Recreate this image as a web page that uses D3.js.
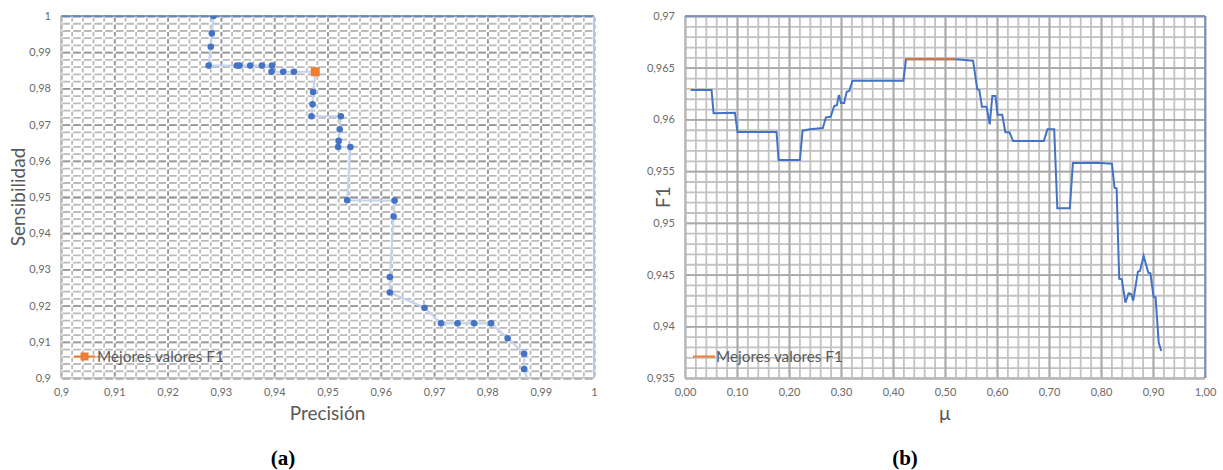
<!DOCTYPE html>
<html>
<head>
<meta charset="utf-8">
<script src="https://cdn.jsdelivr.net/npm/d3@7"></script>
<style>
body { margin: 0; background: #fff; }
text { font-family: Lato, "Open Sans", sans-serif; fill: #595959; }
.axis path { display: none; }
</style>
</head>
<body>
<svg id="chart" width="1223" height="470"></svg>
<script>
// (a) precision / sensitivity pairs
var precision = [0.9286, 0.9283, 0.9281, 0.9277, 0.9330, 0.9335, 0.9355, 0.9377, 0.9396,
  0.9395, 0.9417, 0.9437, 0.9477, 0.9473, 0.9472, 0.9470, 0.9525, 0.9523, 0.9521, 0.9520,
  0.9543, 0.9537, 0.9626, 0.9624, 0.9617, 0.9617, 0.9682, 0.9713, 0.9744, 0.9775, 0.9807,
  0.9838, 0.9869, 0.9869, 0.9880];
var sensibilidad = [1.0, 0.9952, 0.9915, 0.9863, 0.9863, 0.9863, 0.9863, 0.9863, 0.9863,
  0.9846, 0.9846, 0.9846, 0.9846, 0.9790, 0.9756, 0.9723, 0.9723, 0.9687, 0.9655, 0.9638,
  0.9638, 0.9491, 0.9490, 0.9446, 0.9279, 0.9236, 0.9194, 0.9151, 0.9151, 0.9151, 0.9151,
  0.9110, 0.9067, 0.9025, 0.8975];
var bestPrecision = [0.9477];
var bestSensibilidad = [0.9846];
var xTicksA = [0.9, 0.91, 0.92, 0.93, 0.94, 0.95, 0.96, 0.97, 0.98, 0.99, 1];
var yTicksA = [0.9, 0.91, 0.92, 0.93, 0.94, 0.95, 0.96, 0.97, 0.98, 0.99, 1];

// (b) F1 against mu
var mu = [0.011, 0.051, 0.055, 0.096, 0.101, 0.176, 0.180, 0.221, 0.226, 0.240,
  0.265, 0.271, 0.280, 0.287, 0.292, 0.296, 0.300, 0.306, 0.311, 0.316,
  0.322, 0.420, 0.425, 0.521, 0.554, 0.562, 0.566, 0.571, 0.580, 0.586,
  0.591, 0.597, 0.601, 0.610, 0.616, 0.624, 0.631, 0.690, 0.697, 0.710,
  0.716, 0.740, 0.746, 0.792, 0.821, 0.826, 0.830, 0.835, 0.840, 0.847,
  0.853, 0.858, 0.862, 0.871, 0.875, 0.882, 0.891, 0.895, 0.901, 0.905,
  0.911, 0.916];
var f1 = [0.96285, 0.96285, 0.96059, 0.96065, 0.95878, 0.95878, 0.95608, 0.95608, 0.95891, 0.95904,
  0.95917, 0.96020, 0.96026, 0.96130, 0.96137, 0.96236, 0.96159, 0.96159, 0.96268, 0.96275,
  0.96375, 0.96375, 0.96581, 0.96581, 0.96568, 0.96291, 0.96285, 0.96123, 0.96123, 0.95953,
  0.96227, 0.96227, 0.96046, 0.96046, 0.95876, 0.95876, 0.95791, 0.95791, 0.95904, 0.95904,
  0.95141, 0.95141, 0.95579, 0.95582, 0.95572, 0.95340, 0.95334, 0.94460, 0.94454, 0.94228,
  0.94319, 0.94312, 0.94248, 0.94528, 0.94535, 0.94680, 0.94518, 0.94512, 0.94286, 0.94280,
  0.93841, 0.93761];
var bestMu = [0.425, 0.521];
var bestF1 = [0.96581, 0.96581];
var xTicksB = [0, 0.1, 0.2, 0.3, 0.4, 0.5, 0.6, 0.7, 0.8, 0.9, 1];
var yTicksB = [0.935, 0.94, 0.945, 0.95, 0.955, 0.96, 0.965, 0.97];

var es = d3.formatLocale({decimal: ",", thousands: ".", grouping: [3], currency: ["", ""]});
var fmtShort = es.format("~g");
var fmt2 = es.format(".2f");

var svg = d3.select('#chart');
var blue = '#4472c4', orange = '#ed7d31';

// minor grid values between two ends
function minorVals(a, b, step){
  var n = Math.round((b - a) / step);
  return d3.range(n + 1).map(function(i){ return +(a + i * step).toFixed(4); });
}

function drawGrid(g, x, y, w, h, xMinor, yMinor, xMajor, yMajor, dashed){
  var xs = x(xMinor[1]) - x(xMinor[0]);
  var ys = y(yMinor[0]) - y(yMinor[1]);
  var vMinor = g.append('g').attr('transform', 'translate(0,' + h + ')')
    .call(d3.axisBottom(x).tickValues(xMinor).tickSize(-h).tickFormat(''));
  var hMinor = g.append('g')
    .call(d3.axisLeft(y).tickValues(yMinor).tickSize(-w).tickFormat(''));
  var vMajor = g.append('g').attr('transform', 'translate(0,' + h + ')')
    .call(d3.axisBottom(x).tickValues(xMajor).tickSize(-h).tickFormat(''));
  var hMajor = g.append('g')
    .call(d3.axisLeft(y).tickValues(yMajor).tickSize(-w).tickFormat(''));
  [vMinor, hMinor, vMajor, hMajor].forEach(function(s){ s.select('.domain').remove(); });
  var minorCol = dashed ? '#bababa' : '#c2c2c2';
  var majorCol = dashed ? '#999999' : '#a8a8a8';
  vMinor.selectAll('line').attr('stroke', minorCol).attr('stroke-width', 1.8);
  hMinor.selectAll('line').attr('stroke', minorCol).attr('stroke-width', 1.8);
  vMajor.selectAll('line').attr('stroke', majorCol).attr('stroke-width', 1.8);
  hMajor.selectAll('line').attr('stroke', majorCol).attr('stroke-width', 1.8);
  if(dashed){
    // gaps where the lines cross, like the scanned excel grid
    vMinor.selectAll('line').attr('stroke-dasharray', (ys - 3) + ' 3').attr('stroke-dashoffset', ys - 1.5);
    vMajor.selectAll('line').attr('stroke-dasharray', (ys - 3) + ' 3').attr('stroke-dashoffset', ys - 1.5);
    hMinor.selectAll('line').attr('stroke-dasharray', (xs - 3) + ' 3').attr('stroke-dashoffset', xs - 1.5);
    hMajor.selectAll('line').attr('stroke-dasharray', (xs - 3) + ' 3').attr('stroke-dashoffset', xs - 1.5);
  }
}

function styleTicks(sel){
  sel.selectAll('text').attr('font-size', 11).style('fill', '#6a6a6a');
}

//---------------- chart (a)
var A = {left: 61, top: 16, w: 533, h: 362};
var xa = d3.scaleLinear().domain([0.9, 1]).range([0, A.w]);
var ya = d3.scaleLinear().domain([0.9, 1]).range([A.h, 0]);
var ga = svg.append('g').attr('transform', 'translate(' + A.left + ',' + A.top + ')');

drawGrid(ga, xa, ya, A.w, A.h, minorVals(0.9, 1, 0.002), minorVals(0.9, 1, 0.002), xTicksA, yTicksA, true);

ga.append('line').attr('x1', 0).attr('x2', 0).attr('y1', 0).attr('y2', A.h).attr('stroke', '#bfbfbf').attr('stroke-width', 1.5);
ga.append('line').attr('x1', 0).attr('x2', A.w).attr('y1', A.h).attr('y2', A.h).attr('stroke', '#bfbfbf').attr('stroke-width', 1.5);
ga.append('line').attr('x1', 0).attr('x2', A.w).attr('y1', 0).attr('y2', 0).attr('stroke', '#5a7fc6').attr('stroke-width', 1.5);
ga.append('line').attr('x1', A.w).attr('x2', A.w).attr('y1', 0).attr('y2', A.h).attr('stroke', '#b4c7e7').attr('stroke-width', 2);

ga.append('g').attr('class', 'axis').attr('transform', 'translate(0,' + A.h + ')')
  .call(d3.axisBottom(xa).tickValues(xTicksA).tickSize(0).tickPadding(10).tickFormat(fmtShort))
  .call(styleTicks);
ga.append('g').attr('class', 'axis')
  .call(d3.axisLeft(ya).tickValues(yTicksA).tickSize(0).tickPadding(10).tickFormat(fmtShort))
  .call(styleTicks);

ga.append('clipPath').attr('id', 'clipA').append('rect').attr('width', A.w).attr('height', A.h);
var ptsA = precision.map(function(p, i){ return [p, sensibilidad[i]]; });
var plotA = ga.append('g').attr('clip-path', 'url(#clipA)');
plotA.append('path').datum(ptsA)
  .attr('d', d3.line().x(function(d){ return xa(d[0]); }).y(function(d){ return ya(d[1]); }))
  .attr('fill', 'none').attr('stroke', '#c5d3ec').attr('stroke-width', 2.2);
plotA.selectAll('circle.pt').data(ptsA).enter().append('circle').attr('class', 'pt')
  .attr('cx', function(d){ return xa(d[0]); }).attr('cy', function(d){ return ya(d[1]); })
  .attr('r', 3.3).attr('fill', blue);
plotA.selectAll('rect.best').data(bestPrecision).enter().append('rect').attr('class', 'best')
  .attr('x', function(d){ return xa(d) - 4.5; })
  .attr('y', function(d, i){ return ya(bestSensibilidad[i]) - 4.5; })
  .attr('width', 9).attr('height', 9).attr('fill', orange);

// legend (a)
var la = svg.append('g').attr('transform', 'translate(74,356.5)');
la.append('line').attr('x1', 0).attr('x2', 21).attr('stroke', orange).attr('stroke-width', 2);
la.append('rect').attr('x', 6.5).attr('y', -4).attr('width', 8).attr('height', 8).attr('fill', orange);
la.append('text').attr('x', 23).attr('y', 5.5).attr('font-size', 15.3).text('Mejores valores F1');

svg.append('text').attr('x', A.left + A.w / 2).attr('y', 420).attr('text-anchor', 'middle')
  .attr('font-size', 19).text('Precisión');
svg.append('text').attr('transform', 'translate(25,' + (A.top + A.h / 2) + ') rotate(-90)')
  .attr('text-anchor', 'middle').attr('font-size', 19).text('Sensibilidad');

//---------------- chart (b)
var B = {left: 685, top: 16, w: 520, h: 362};
var xb = d3.scaleLinear().domain([0, 1]).range([0, B.w]);
var yb = d3.scaleLinear().domain([0.935, 0.97]).range([B.h, 0]);
var gb = svg.append('g').attr('transform', 'translate(' + B.left + ',' + B.top + ')');

drawGrid(gb, xb, yb, B.w, B.h, minorVals(0, 1, 0.02), minorVals(0.935, 0.97, 0.001), xTicksB, yTicksB, false);

gb.append('line').attr('x1', 0).attr('x2', 0).attr('y1', 0).attr('y2', B.h).attr('stroke', '#bfbfbf').attr('stroke-width', 1.5);
gb.append('line').attr('x1', 0).attr('x2', B.w).attr('y1', B.h).attr('y2', B.h).attr('stroke', '#bfbfbf').attr('stroke-width', 1.5);
gb.append('line').attr('x1', 0).attr('x2', B.w).attr('y1', 0).attr('y2', 0).attr('stroke', '#6d8bc6').attr('stroke-width', 1.5);
gb.append('line').attr('x1', B.w).attr('x2', B.w).attr('y1', 0).attr('y2', B.h).attr('stroke', '#6d8bc6').attr('stroke-width', 1.5);

gb.append('g').attr('class', 'axis').attr('transform', 'translate(0,' + B.h + ')')
  .call(d3.axisBottom(xb).tickValues(xTicksB).tickSize(0).tickPadding(10).tickFormat(fmt2))
  .call(styleTicks);
gb.append('g').attr('class', 'axis')
  .call(d3.axisLeft(yb).tickValues(yTicksB).tickSize(0).tickPadding(10).tickFormat(fmtShort))
  .call(styleTicks);

var lineB = d3.line().x(function(d){ return xb(d[0]); }).y(function(d){ return yb(d[1]); });
gb.append('path').datum(mu.map(function(m, i){ return [m, f1[i]]; }))
  .attr('d', lineB).attr('fill', 'none').attr('stroke', blue).attr('stroke-width', 2);
gb.append('path').datum(bestMu.map(function(m, i){ return [m, bestF1[i]]; }))
  .attr('d', lineB).attr('fill', 'none').attr('stroke', '#d9773a').attr('stroke-width', 2);

// legend (b)
var lb = svg.append('g').attr('transform', 'translate(693,356.5)');
lb.append('line').attr('x1', 0).attr('x2', 22).attr('stroke', orange).attr('stroke-width', 2);
lb.append('text').attr('x', 23).attr('y', 5.5).attr('font-size', 15.3).text('Mejores valores F1');

svg.append('text').attr('x', B.left + B.w / 2).attr('y', 420).attr('text-anchor', 'middle')
  .attr('font-size', 19).text('µ');
svg.append('text').attr('transform', 'translate(670,' + (B.top + B.h / 2) + ') rotate(-90)')
  .attr('text-anchor', 'middle').attr('font-size', 19).text('F1');

// captions
svg.append('text').attr('x', 283).attr('y', 465).attr('text-anchor', 'middle')
  .style('font-family', '"Liberation Serif", "DejaVu Serif", serif').attr('font-weight', 'bold').attr('font-size', 21)
  .style('fill', '#000').text('(a)');
svg.append('text').attr('x', 905).attr('y', 465).attr('text-anchor', 'middle')
  .style('font-family', '"Liberation Serif", "DejaVu Serif", serif').attr('font-weight', 'bold').attr('font-size', 21)
  .style('fill', '#000').text('(b)');
</script>
</body>
</html>
